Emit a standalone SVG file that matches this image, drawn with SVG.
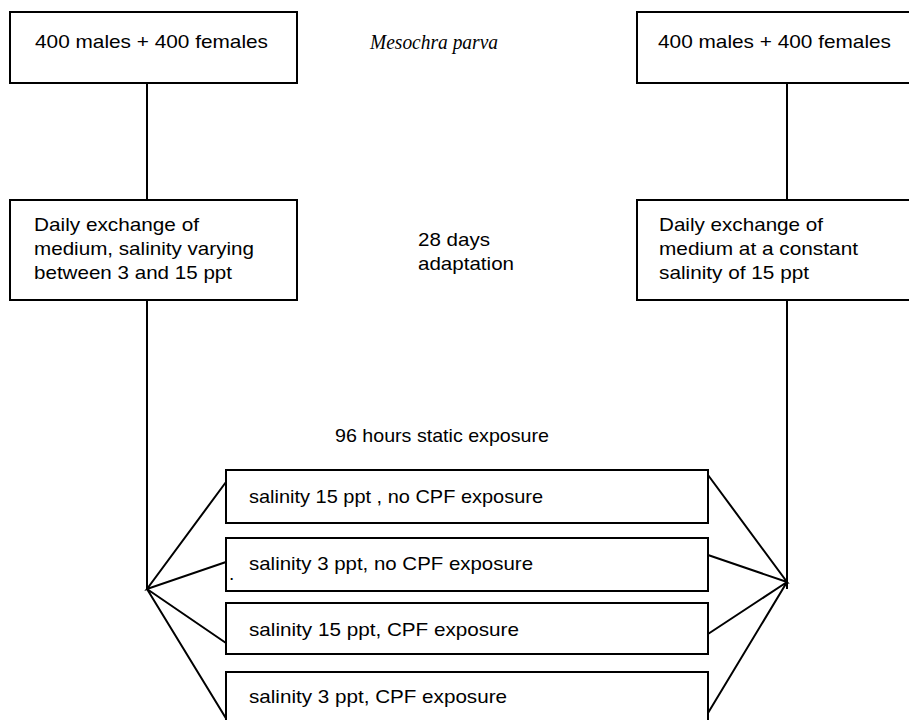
<svg xmlns="http://www.w3.org/2000/svg" width="909" height="720" viewBox="0 0 909 720">
<style>
.box{fill:#fff;stroke:#000;stroke-width:2}
.ln{stroke:#000;stroke-width:2;fill:none}
.t{font-family:"Liberation Sans",Arial,sans-serif;font-size:19px;fill:#000}
.it{font-family:"Liberation Serif","Times New Roman",serif;font-style:italic;font-size:22px;fill:#000}
</style>
<rect width="909" height="720" fill="#fff"/>
<g id="connectors">
<line class="ln" x1="147" y1="83" x2="147" y2="200"/>
<line class="ln" x1="787" y1="83" x2="787" y2="200"/>
<line class="ln" x1="147" y1="300" x2="147" y2="589"/>
<line class="ln" x1="787" y1="300" x2="787" y2="589"/>
<polyline class="ln" points="226,482 147,589 226,562"/>
<polyline class="ln" points="226,643 147,589 227,720"/>
<polyline class="ln" points="708,475 787,582 708,555"/>
<polyline class="ln" points="708,634 787,582 708,713"/>
</g>
<g id="title"><text class="it" x="370" y="49" textLength="128" lengthAdjust="spacingAndGlyphs">Mesochra parva</text></g>
<g id="top-left"><rect class="box" x="10" y="12" width="287" height="71"/><text class="t" x="35" y="48" textLength="233" lengthAdjust="spacingAndGlyphs">400 males + 400 females</text></g>
<g id="top-right"><rect class="box" x="637" y="12" width="280" height="71"/><text class="t" x="658" y="48" textLength="233" lengthAdjust="spacingAndGlyphs">400 males + 400 females</text></g>
<g id="mid-left"><rect class="box" x="10" y="200" width="287" height="100"/>
<text class="t" x="34" y="231" textLength="165" lengthAdjust="spacingAndGlyphs">Daily exchange of</text>
<text class="t" x="34" y="255" textLength="220" lengthAdjust="spacingAndGlyphs">medium, salinity varying</text>
<text class="t" x="34" y="279" textLength="198" lengthAdjust="spacingAndGlyphs">between 3 and 15 ppt</text></g>
<g id="adaptation"><text class="t" x="418" y="246" textLength="72" lengthAdjust="spacingAndGlyphs">28 days</text>
<text class="t" x="418" y="270" textLength="96" lengthAdjust="spacingAndGlyphs">adaptation</text></g>
<g id="mid-right"><rect class="box" x="637" y="200" width="280" height="100"/>
<text class="t" x="659" y="231" textLength="164" lengthAdjust="spacingAndGlyphs">Daily exchange of</text>
<text class="t" x="659" y="255" textLength="199" lengthAdjust="spacingAndGlyphs">medium at a constant</text>
<text class="t" x="659" y="279" textLength="150" lengthAdjust="spacingAndGlyphs">salinity of 15 ppt</text></g>
<g id="exposure-label"><text class="t" x="335" y="442" textLength="214" lengthAdjust="spacingAndGlyphs">96 hours static exposure</text></g>
<g id="b1"><rect class="box" x="226" y="470" width="482" height="53"/><text class="t" x="249" y="503" textLength="294" lengthAdjust="spacingAndGlyphs">salinity 15 ppt , no CPF exposure</text></g>
<g id="b2"><rect class="box" x="226" y="538" width="482" height="53"/><text class="t" x="249" y="570" textLength="284" lengthAdjust="spacingAndGlyphs">salinity 3 ppt, no CPF exposure</text><text class="t" x="229" y="580">.</text></g>
<g id="b3"><rect class="box" x="226" y="603" width="482" height="51"/><text class="t" x="249" y="636" textLength="270" lengthAdjust="spacingAndGlyphs">salinity 15 ppt, CPF exposure</text></g>
<g id="b4"><rect class="box" x="226" y="672" width="482" height="60"/><text class="t" x="249" y="703" textLength="258" lengthAdjust="spacingAndGlyphs">salinity 3 ppt, CPF exposure</text></g>
</svg>
